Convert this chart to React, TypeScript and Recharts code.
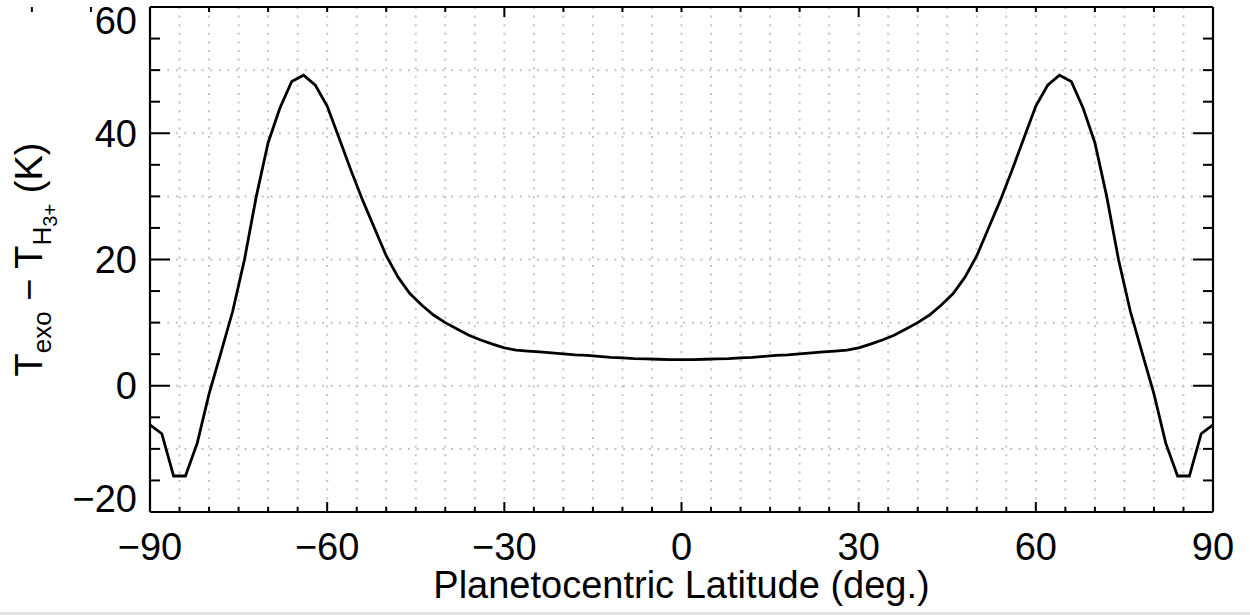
import { LineChart, Line, XAxis, YAxis, CartesianGrid } from "recharts";

const LATITUDES = [
  -90, -88, -86, -84, -82, -80, -78, -76, -74, -72, -70, -68, -66, -64, -62, -60,
  -58, -56, -54, -52, -50, -48, -46, -44, -42, -40, -38, -36, -34, -32, -30, -28,
  -26, -24, -22, -20, -18, -16, -14, -12, -10, -8, -6, -4, -2, 0, 2, 4, 6, 8, 10,
  12, 14, 16, 18, 20, 22, 24, 26, 28, 30, 32, 34, 36, 38, 40, 42, 44, 46, 48, 50,
  52, 54, 56, 58, 60, 62, 64, 66, 68, 70, 72, 74, 76, 78, 80, 82, 84, 86, 88, 90,
];

// T_exo - T_H3+ (K)
const T_DIFF = [
  -6.2, -7.6, -14.3, -14.3, -9.1, -1.3, 5.2, 11.8, 20.0, 30.0, 38.5, 44.0, 48.2, 49.2,
  47.6, 44.3, 39.3, 34.2, 29.4, 25.0, 20.6, 17.2, 14.6, 12.8, 11.2, 10.0, 9.0, 8.0,
  7.25, 6.6, 6.0, 5.65, 5.5, 5.35, 5.2, 5.05, 4.9, 4.8, 4.65, 4.5, 4.4, 4.3, 4.25,
  4.2, 4.15, 4.15, 4.15, 4.2, 4.25, 4.3, 4.4, 4.5, 4.65, 4.8, 4.9, 5.05, 5.2, 5.35,
  5.5, 5.65, 6.0, 6.6, 7.25, 8.0, 9.0, 10.0, 11.2, 12.8, 14.6, 17.2, 20.6, 25.0,
  29.4, 34.2, 39.3, 44.3, 47.6, 49.2, 48.2, 44.0, 38.5, 30.0, 20.0, 11.8, 5.2, -1.3,
  -9.1, -14.3, -14.3, -7.6, -6.2,
];

const X_TICKS = [
  -90, -85, -80, -75, -70, -65, -60, -55, -50, -45, -40, -35, -30, -25, -20, -15, -10, -5,
  0, 5, 10, 15, 20, 25, 30, 35, 40, 45, 50, 55, 60, 65, 70, 75, 80, 85, 90,
];
const Y_TICKS = [-20, -15, -10, -5, 0, 5, 10, 15, 20, 25, 30, 35, 40, 45, 50, 55, 60];
const Y_GRID = [-10, 0, 10, 20, 30, 40, 50];

const data = LATITUDES.map((lat, i) => ({ lat, dT: T_DIFF[i] }));

const FONT = '"Liberation Sans", Arial, Helvetica, sans-serif';
const fmt = (v: number) => (v < 0 ? "\u2212" + Math.abs(v) : String(v));

function LeftTick(props: any) {
  const { x, y, payload } = props;
  const v = payload.value;
  const major = v % 20 === 0;
  const axisX = x + 12;
  // end labels are pulled inside the frame height, as in the original
  const cy = Math.min(Math.max(y, 20), 498.5);
  return (
    <g>
      <line x1={axisX} x2={axisX + (major ? 20 : 10)} y1={y} y2={y} stroke="#000" strokeWidth={2} />
      {major && (
        <text x={x - 1} y={cy + 13.5} textAnchor="end" fontSize={38} fontFamily={FONT} fill="#000">
          {fmt(v)}
        </text>
      )}
    </g>
  );
}

function RightTick(props: any) {
  const { x, y, payload } = props;
  const major = payload.value % 20 === 0;
  return <line x1={x} x2={x - (major ? 20 : 10)} y1={y} y2={y} stroke="#000" strokeWidth={2} />;
}

function BottomTick(props: any) {
  const { x, y, payload } = props;
  const v = payload.value;
  const major = v % 30 === 0;
  return (
    <g>
      <line x1={x} x2={x} y1={y} y2={y - (major ? 10 : 5)} stroke="#000" strokeWidth={2} />
      {major && (
        <text x={x} y={y + 48} textAnchor="middle" fontSize={38} fontFamily={FONT} fill="#000">
          {fmt(v)}
        </text>
      )}
    </g>
  );
}

function TopTick(props: any) {
  const { x, y, payload } = props;
  const major = payload.value % 30 === 0;
  return <line x1={x} x2={x} y1={y} y2={y + (major ? 10 : 5)} stroke="#000" strokeWidth={2} />;
}

function XTitle(props: any) {
  const vb = props.viewBox;
  return (
    <text x={vb.x + vb.width / 2} y={vb.y + 86} textAnchor="middle" fontSize={38} fontFamily={FONT} fill="#000">
      Planetocentric Latitude (deg.)
    </text>
  );
}

// y title drawn in its own svg layer on top of the chart
function YTitle() {
  const cx = 42;
  const cy = 259.5;
  return (
    <svg width={150} height={615} style={{ position: "absolute", left: 0, top: 0, pointerEvents: "none" }}>
      <text
        x={cx}
        y={cy}
        transform={`rotate(-90, ${cx}, ${cy})`}
        textAnchor="middle"
        fontSize={38}
        fontFamily={FONT}
        fill="#000"
      >
        T
        <tspan fontSize={26} dy={9}>exo</tspan>
        <tspan dy={-9}> {"\u2212"} T</tspan>
        <tspan fontSize={26} dy={9}>H</tspan>
        <tspan fontSize={20} dy={6}>3+</tspan>
        <tspan dy={-15}> (K)</tspan>
      </text>
    </svg>
  );
}

const axisLine = { stroke: "#000", strokeWidth: 2.2 };

export default function App() {
  return (
    <div style={{ position: "absolute", left: 0, top: 0, width: 1250, height: 615, background: "#fff" }}>
      <LineChart width={1250} height={615} data={data} margin={{ top: 0, right: 0, bottom: 0, left: 0 }}>
        <CartesianGrid
          stroke="#c4c4c4"
          strokeWidth={2}
          strokeDasharray="2 6.6"
          horizontalValues={Y_GRID}
          verticalValues={X_TICKS}
        />
        <XAxis
          dataKey="lat"
          type="number"
          domain={[-90, 90]}
          ticks={X_TICKS}
          interval={0}
          height={103}
          tickSize={0}
          tickMargin={0}
          tickLine={false}
          axisLine={axisLine}
          tick={<BottomTick />}
          label={<XTitle />}
        />
        <XAxis
          xAxisId="top"
          orientation="top"
          type="number"
          domain={[-90, 90]}
          allowDataOverflow
          ticks={X_TICKS}
          interval={0}
          height={7}
          tickSize={0}
          tickMargin={0}
          tickLine={false}
          axisLine={axisLine}
          tick={<TopTick />}
        />
        <YAxis
          type="number"
          domain={[-20, 60]}
          ticks={Y_TICKS}
          interval={0}
          width={150}
          tickSize={0}
          tickMargin={12}
          tickLine={false}
          axisLine={axisLine}
          tick={<LeftTick />}
        />
        <YAxis
          yAxisId="right"
          orientation="right"
          type="number"
          domain={[-20, 60]}
          allowDataOverflow
          ticks={Y_TICKS}
          interval={0}
          width={37}
          tickSize={0}
          tickMargin={0}
          tickLine={false}
          axisLine={axisLine}
          tick={<RightTick />}
        />
        <Line
          type="linear"
          dataKey="dT"
          stroke="#000"
          strokeWidth={2.8}
          dot={false}
          activeDot={false}
          isAnimationActive={false}
        />
      </LineChart>
      <YTitle />
      <div style={{ position: "absolute", left: 0, top: 612, width: 1250, height: 3, background: "#e2e2e2" }} />
    </div>
  );
}
